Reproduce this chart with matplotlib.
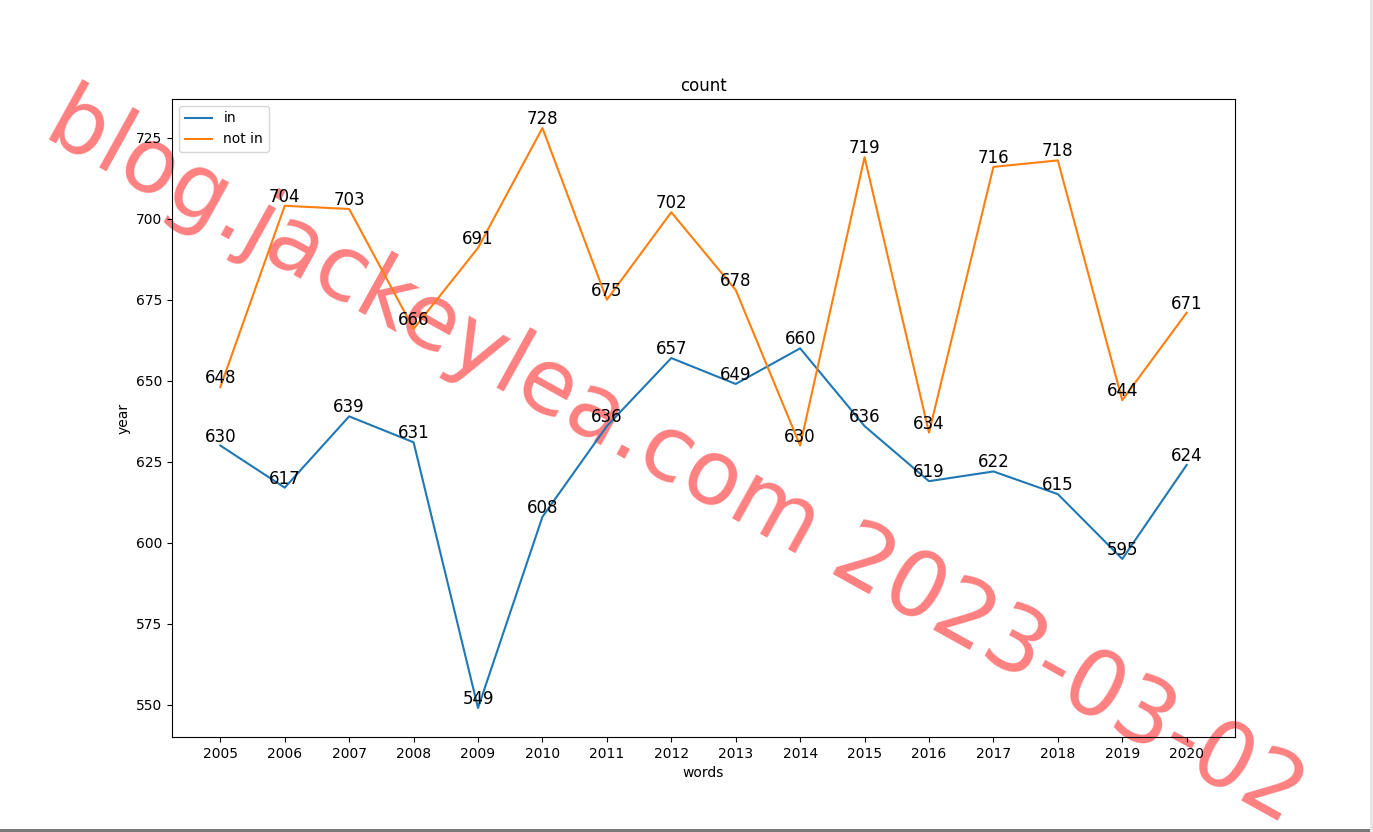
import matplotlib
matplotlib.use("Agg")
import matplotlib.pyplot as plt
from matplotlib.patches import Rectangle

years = [str(y) for y in range(2005, 2021)]
in_counts = [630, 617, 639, 631, 549, 608, 636, 657, 649, 660, 636, 619, 622, 615, 595, 624]
not_in_counts = [648, 704, 703, 666, 691, 728, 675, 702, 678, 630, 719, 634, 716, 718, 644, 671]

W, H = 1373, 832
fig = plt.figure(figsize=(W / 100, H / 100), dpi=100)
ax = fig.add_axes([172/W, 1-737/H, (1235-172)/W, (737-99)/H])
ax.set_facecolor("none")
ax.plot(years, in_counts, label="in")
ax.plot(years, not_in_counts, label="not in")
for x, y in zip(years, in_counts):
    ax.text(x, y, str(y), ha="center", va="bottom", fontsize=12)
for x, y in zip(years, not_in_counts):
    ax.text(x, y, str(y), ha="center", va="bottom", fontsize=12)
ax.set_title("count")
ax.set_xlabel("words")
ax.set_ylabel("year")
ax.legend(loc="upper left")

fig.text(0.492, 0.449, "blog.jackeylea.com 2023-03-02", fontsize=65, color="#ff8080",
         rotation=-29, ha="center", va="center", rotation_mode="anchor", zorder=-5)

# screenshot edge
fig.add_artist(Rectangle((0, 0), 1, 3/H, transform=fig.transFigure,
                         facecolor="#7a7a7a", edgecolor="none"))
fig.add_artist(Rectangle((1 - 3/W, 0), 3/W, 1, transform=fig.transFigure,
                         facecolor="#e6e6e6", edgecolor="none"))

fig.savefig("out.png", dpi=100)
